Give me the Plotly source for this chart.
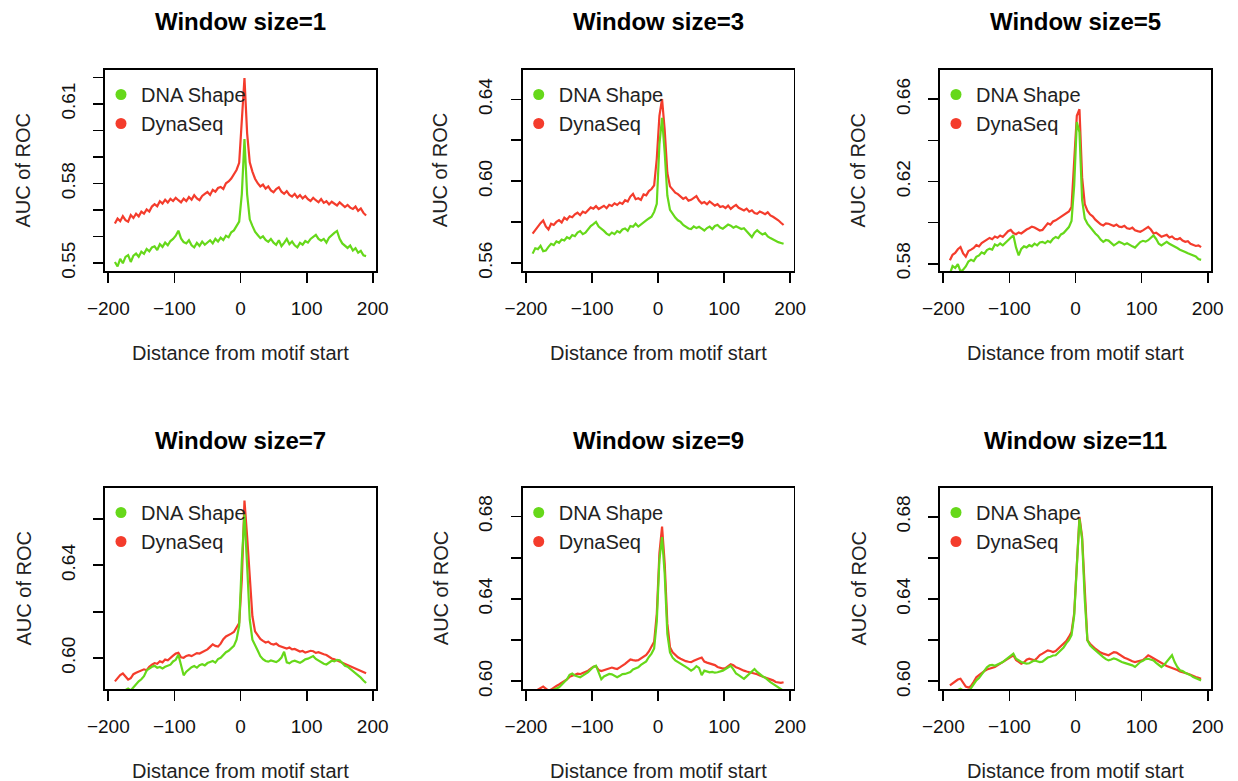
import plotly.graph_objects as go

# ---------------- data ----------------
x_pos = [-190, -186, -182, -178, -174, -170, -166, -162,
         -158, -154, -150, -146, -142, -138, -134, -130,
         -126, -122, -118, -114, -110, -106, -102, -98,
         -94, -90, -86, -82, -78, -74, -70, -66,
         -62, -58, -54, -50, -46, -42, -38, -34,
         -30, -26, -22, -18, -14, -10, -6, -2,
         2, 6, 10, 14, 18, 22, 26, 30,
         34, 38, 42, 46, 50, 54, 58, 62,
         66, 70, 74, 78, 82, 86, 90, 94,
         98, 102, 106, 110, 114, 118, 122, 126,
         130, 134, 138, 142, 146, 150, 154, 158,
         162, 166, 170, 174, 178, 182, 186, 190]

# Window size = 1
shape_w1 = [.5504, .5487, .5516, .5499, .5523, .5530, .5504, .5528,
            .5536, .5524, .5543, .5535, .5553, .5544, .5559, .5563,
            .5549, .5571, .5561, .5577, .5567, .5583, .5591, .5603,
            .5622, .5593, .5579, .5574, .5586, .5567, .5559, .5576,
            .5565, .5581, .5569, .5579, .5586, .5574, .5591, .5581,
            .5596, .5587, .5603, .5597, .5616, .5623, .5641, .5656,
            .5760, .5968, .5760, .5665, .5640, .5618, .5606, .5594,
            .5601, .5587, .5580, .5591, .5577, .5569, .5586, .5564,
            .5576, .5591, .5571, .5581, .5567, .5559, .5576, .5569,
            .5583, .5577, .5591, .5599, .5606, .5591, .5584, .5591,
            .5577, .5596, .5606, .5614, .5621, .5591, .5574, .5567,
            .5557, .5566, .5547, .5556, .5539, .5546, .5529, .5526]
dyna_w1 = [.5649, .5668, .5658, .5677, .5662, .5656, .5681, .5670,
           .5686, .5676, .5694, .5686, .5702, .5694, .5713, .5722,
           .5714, .5733, .5724, .5739, .5728, .5742, .5734, .5746,
           .5737, .5729, .5743, .5734, .5749, .5739, .5756, .5744,
           .5737, .5753, .5761, .5768, .5757, .5776, .5769, .5783,
           .5787, .5779, .5801, .5808, .5819, .5834, .5851, .5878,
           .6030, .6198, .5990, .5880, .5845, .5818, .5801, .5789,
           .5796, .5781, .5789, .5774, .5767, .5779, .5786, .5769,
           .5761, .5771, .5757, .5751, .5761, .5747, .5756, .5744,
           .5753, .5741, .5734, .5746, .5737, .5729, .5741, .5727,
           .5733, .5721, .5731, .5724, .5717, .5729, .5719, .5711,
           .5719, .5709, .5704, .5713, .5697, .5706, .5689, .5679]

# Window size = 3
shape_w3 = [.5646, .5672, .5668, .5684, .5658, .5661, .5679, .5694,
            .5688, .5706, .5699, .5715, .5710, .5726, .5719, .5737,
            .5731, .5749, .5756, .5741, .5748, .5763, .5781, .5790,
            .5801, .5778, .5769, .5757, .5744, .5736, .5749, .5741,
            .5756, .5749, .5764, .5769, .5758, .5781, .5777, .5792,
            .5778, .5789, .5801, .5808, .5818, .5826, .5850, .5890,
            .6180, .6310, .6140, .5930, .5860, .5838, .5822, .5809,
            .5801, .5786, .5777, .5769, .5766, .5779, .5771, .5777,
            .5768, .5759, .5771, .5778, .5766, .5781, .5786, .5774,
            .5768, .5779, .5788, .5783, .5773, .5780, .5771, .5766,
            .5770, .5754, .5738, .5727, .5748, .5760, .5749, .5740,
            .5746, .5730, .5722, .5714, .5706, .5702, .5698, .5694]
dyna_w3 = [.5744, .5762, .5781, .5795, .5808, .5779, .5764, .5792,
           .5786, .5801, .5810, .5798, .5822, .5812, .5829, .5824,
           .5838, .5846, .5834, .5851, .5845, .5860, .5872, .5866,
           .5878, .5864, .5871, .5880, .5868, .5885, .5879, .5892,
           .5884, .5896, .5889, .5907, .5901, .5925, .5938, .5912,
           .5917, .5909, .5936, .5931, .5952, .5962, .5980, .6110,
           .6320, .6402, .6250, .6040, .5975, .5958, .5944, .5937,
           .5925, .5914, .5921, .5905, .5909, .5917, .5927, .5906,
           .5892, .5898, .5887, .5901, .5893, .5881, .5888, .5874,
           .5878, .5869, .5881, .5865, .5876, .5884, .5870, .5862,
           .5857, .5866, .5851, .5858, .5845, .5841, .5852, .5846,
           .5839, .5848, .5833, .5826, .5818, .5809, .5797, .5786]

# Window size = 5
shape_w5 = [.5751, .5788, .5779, .5798, .5762, .5770, .5786, .5810,
            .5819, .5812, .5833, .5840, .5855, .5848, .5866, .5873,
            .5868, .5893, .5887, .5898, .5889, .5901, .5915, .5926,
            .5938, .5879, .5840, .5872, .5884, .5879, .5890, .5884,
            .5897, .5889, .5903, .5906, .5899, .5910, .5904, .5921,
            .5930, .5924, .5942, .5949, .5963, .5978, .6008, .6180,
            .6490, .6440, .6110, .6020, .5995, .5978, .5962, .5947,
            .5935, .5917, .5906, .5915, .5912, .5900, .5889, .5897,
            .5906, .5901, .5893, .5899, .5890, .5884, .5878, .5893,
            .5905, .5911, .5907, .5914, .5925, .5937, .5920, .5897,
            .5889, .5899, .5906, .5897, .5890, .5887, .5876, .5868,
            .5864, .5857, .5850, .5846, .5841, .5835, .5822, .5818]
dyna_w5 = [.5816, .5843, .5852, .5870, .5881, .5850, .5834, .5861,
           .5868, .5876, .5890, .5884, .5900, .5908, .5916, .5925,
           .5919, .5932, .5926, .5937, .5930, .5946, .5958, .5964,
           .5949, .5943, .5952, .5947, .5958, .5966, .5972, .5980,
           .5976, .5968, .5961, .5964, .5978, .5996, .5990, .6005,
           .6011, .6020, .6029, .6036, .6047, .6054, .6076, .6290,
           .6520, .6552, .6220, .6090, .6058, .6040, .6030, .6014,
           .6002, .5991, .5986, .5996, .5994, .5989, .5983, .5990,
           .5980, .5978, .5984, .5972, .5969, .5975, .5962, .5958,
           .5955, .5962, .5972, .5979, .5966, .5947, .5951, .5940,
           .5931, .5936, .5940, .5927, .5932, .5921, .5918, .5924,
           .5912, .5906, .5909, .5897, .5892, .5886, .5889, .5880]

# Window size = 7
shape_w7 = [.5845, .5852, .5858, .5855, .5862, .5868, .5860, .5874,
            .5888, .5899, .5908, .5921, .5946, .5955, .5962, .5966,
            .5958, .5961, .5955, .5962, .5966, .5971, .5985, .5992,
            .6014, .5964, .5925, .5941, .5951, .5960, .5965, .5958,
            .5969, .5973, .5968, .5978, .5983, .5987, .5980, .5995,
            .6001, .6012, .6025, .6031, .6043, .6052, .6079, .6140,
            .6420, .6620, .6400, .6165, .6079, .6052, .6032, .6008,
            .5995, .5987, .5984, .5989, .5986, .5982, .5990, .6002,
            .6027, .5981, .5977, .5985, .5988, .5983, .5979, .5986,
            .5994, .5997, .6003, .6008, .5996, .5988, .5982, .5975,
            .5972, .5979, .5988, .5985, .5992, .5990, .5978, .5966,
            .5962, .5953, .5944, .5936, .5926, .5915, .5903, .5892]
dyna_w7 = [.5899, .5912, .5926, .5933, .5920, .5907, .5913, .5930,
           .5936, .5941, .5944, .5951, .5947, .5962, .5971, .5978,
           .5975, .5986, .5981, .5993, .5990, .6002, .6010, .6019,
           .6022, .6003, .6001, .6009, .6012, .6008, .6016, .6021,
           .6019, .6026, .6033, .6037, .6048, .6059, .6052, .6049,
           .6062, .6081, .6093, .6098, .6105, .6112, .6135, .6151,
           .6338, .6680, .6525, .6338, .6180, .6115, .6098, .6082,
           .6074, .6067, .6070, .6061, .6058, .6062, .6053, .6050,
           .6046, .6041, .6045, .6037, .6039, .6032, .6028, .6030,
           .6023, .6027, .6031, .6029, .6022, .6025, .6019, .6016,
           .6013, .6005, .5998, .5994, .5989, .5985, .5980, .5972,
           .5970, .5962, .5957, .5955, .5950, .5944, .5940, .5934]

# Window size = 9
shape_w9 = [.5935, .5940, .5942, .5948, .5950, .5946, .5952, .5955,
            .5960, .5965, .5971, .5984, .5998, .6010, .6032, .6038,
            .6028, .6025, .6020, .6028, .6036, .6045, .6058, .6070,
            .6076, .6046, .6010, .6024, .6030, .6036, .6034, .6026,
            .6020, .6027, .6035, .6036, .6040, .6045, .6058, .6064,
            .6068, .6080, .6090, .6097, .6118, .6135, .6160, .6290,
            .6590, .6700, .6520, .6230, .6140, .6115, .6102, .6093,
            .6086, .6078, .6070, .6062, .6052, .6060, .6074, .6065,
            .6030, .6052, .6048, .6044, .6046, .6042, .6044, .6048,
            .6052, .6060, .6070, .6076, .6058, .6038, .6030, .6022,
            .6012, .6024, .6036, .6052, .6060, .6046, .6035, .6025,
            .6018, .6005, .5996, .5988, .5980, .5972, .5963, .5954]
dyna_w9 = [.5945, .5952, .5958, .5968, .5975, .5965, .5955, .5960,
           .5970, .5978, .5985, .5992, .6000, .6010, .6022, .6029,
           .6032, .6037, .6035, .6041, .6045, .6052, .6062, .6071,
           .6074, .6055, .6050, .6054, .6058, .6062, .6067, .6063,
           .6060, .6068, .6075, .6085, .6096, .6106, .6103, .6101,
           .6103, .6112, .6122, .6128, .6145, .6166, .6192, .6328,
           .6621, .6751, .6572, .6280, .6166, .6141, .6128, .6117,
           .6110, .6102, .6098, .6095, .6093, .6100, .6107, .6111,
           .6115, .6096, .6091, .6087, .6084, .6079, .6070, .6066,
           .6062, .6064, .6072, .6083, .6078, .6068, .6064, .6056,
           .6052, .6048, .6045, .6041, .6038, .6035, .6028, .6024,
           .6020, .6015, .6011, .6005, .5997, .5995, .5993, .5996]

# Window size = 11
shape_w11 = [.5940, .5945, .5950, .5958, .5964, .5956, .5942, .5952,
             .5968, .5990, .6005, .6016, .6035, .6050, .6068, .6078,
             .6080, .6076, .6082, .6090, .6094, .6104, .6115, .6125,
             .6135, .6110, .6100, .6094, .6090, .6086, .6088, .6096,
             .6102, .6098, .6094, .6096, .6108, .6116, .6120, .6126,
             .6127, .6140, .6155, .6165, .6185, .6200, .6225, .6320,
             .6560, .6790, .6690, .6400, .6200, .6175, .6162, .6151,
             .6140, .6125, .6118, .6108, .6102, .6106, .6112, .6108,
             .6100, .6094, .6090, .6086, .6084, .6078, .6070, .6082,
             .6094, .6100, .6108, .6110, .6105, .6102, .6090, .6078,
             .6070, .6080, .6094, .6110, .6127, .6094, .6070, .6054,
             .6050, .6042, .6037, .6030, .6021, .6015, .6010, .6005]
dyna_w11 = [.5981, .5990, .6001, .6009, .6013, .5993, .5975, .5970,
            .5978, .5998, .6020, .6030, .6042, .6050, .6058, .6062,
            .6066, .6070, .6078, .6086, .6094, .6102, .6112, .6120,
            .6127, .6104, .6093, .6086, .6092, .6105, .6110, .6106,
            .6102, .6114, .6128, .6135, .6142, .6151, .6148, .6143,
            .6148, .6160, .6172, .6180, .6196, .6216, .6240, .6330,
            .6573, .6800, .6703, .6411, .6200, .6183, .6170, .6159,
            .6150, .6140, .6135, .6130, .6127, .6135, .6142, .6140,
            .6132, .6120, .6115, .6110, .6102, .6098, .6094, .6097,
            .6100, .6104, .6115, .6127, .6120, .6112, .6105, .6096,
            .6088, .6082, .6075, .6070, .6066, .6062, .6055, .6048,
            .6045, .6041, .6037, .6032, .6025, .6021, .6017, .6013]

window_sizes = [1, 3, 5, 7, 9, 11]
shape_series = [shape_w1, shape_w3, shape_w5, shape_w7, shape_w9, shape_w11]
dyna_series = [dyna_w1, dyna_w3, dyna_w5, dyna_w7, dyna_w9, dyna_w11]

x_tickvals = [-200, -100, 0, 100, 200]
x_ticktext = ["\u2212200", "\u2212100", "0", "100", "200"]

y_tickvals = [
    [0.55, 0.56, 0.57, 0.58, 0.59, 0.60, 0.61, 0.62],
    [0.56, 0.58, 0.60, 0.62, 0.64],
    [0.58, 0.60, 0.62, 0.64, 0.66],
    [0.60, 0.62, 0.64, 0.66],
    [0.60, 0.62, 0.64, 0.66, 0.68],
    [0.60, 0.62, 0.64, 0.66, 0.68],
]
y_ticktext = [
    ["0.55", "", "", "0.58", "", "", "0.61", ""],
    ["0.56", "", "0.60", "", "0.64"],
    ["0.58", "", "0.62", "", "0.66"],
    ["0.60", "", "0.64", ""],
    ["0.60", "", "0.64", "", "0.68"],
    ["0.60", "", "0.64", "", "0.68"],
]
y_ranges = [
    [0.5470, 0.6228],
    [0.5561, 0.6544],
    [0.5764, 0.6743],
    [0.5866, 0.6734],
    [0.5963, 0.6938],
    [0.5963, 0.6940],
]
x_range = [-205, 205]

series_names = ["DNA Shape", "DynaSeq"]
GREEN = "#66D81A"
RED = "#F43C2C"

# ---------------- layout geometry ----------------
W, H = 1238, 781
col_px = [(105, 376), (522.7, 793.5), (940, 1211)]
row_px = [(70, 271), (488, 689)]

FONT = "Liberation Sans, Arial, Helvetica, sans-serif"

fig = go.Figure()
layout = dict(
    width=W, height=H,
    margin=dict(l=0, r=0, t=0, b=0, autoexpand=False),
    paper_bgcolor="white", plot_bgcolor="white",
    font=dict(family=FONT, color="black"),
    showlegend=True,
)
annotations = []

for i in range(6):
    r, c = divmod(i, 3)
    n = "" if i == 0 else str(i + 1)
    xa, ya = "x" + n, "y" + n
    x0p, x1p = col_px[c]
    t_px, b_px = row_px[r]
    xdom = [x0p / W, x1p / W]
    ydom = [1 - b_px / H, 1 - t_px / H]
    leg = "legend" + n

    fig.add_trace(go.Scatter(x=x_pos, y=dyna_series[i], mode="lines",
                             line=dict(color=RED, width=2.2),
                             xaxis=xa, yaxis=ya, showlegend=False,
                             hoverinfo="skip"))
    fig.add_trace(go.Scatter(x=x_pos, y=shape_series[i], mode="lines",
                             line=dict(color=GREEN, width=2.2),
                             xaxis=xa, yaxis=ya, showlegend=False,
                             hoverinfo="skip"))
    # legend entries (dots)
    for name, col in zip(series_names, [GREEN, RED]):
        fig.add_trace(go.Scatter(x=[None], y=[None], mode="markers",
                                 marker=dict(color=col, size=11),
                                 name=name, xaxis=xa, yaxis=ya,
                                 legend=leg, showlegend=True))

    layout["xaxis" + n] = dict(
        domain=xdom, range=x_range, anchor=ya, automargin=False,
        showline=True, mirror=True, linecolor="black", linewidth=1.8,
        ticks="outside", ticklen=10, tickwidth=1.8, tickcolor="black",
        tickvals=x_tickvals, ticktext=x_ticktext,
        tickfont=dict(size=19, family=FONT, color="#111111"),
        ticklabelstandoff=9,
        showgrid=False, zeroline=False, fixedrange=True,
    )
    layout["yaxis" + n] = dict(
        domain=ydom, range=y_ranges[i], anchor=xa, automargin=False,
        showline=True, mirror=True, linecolor="black", linewidth=1.8,
        ticks="outside", ticklen=10, tickwidth=1.8, tickcolor="black",
        tickvals=y_tickvals[i], ticktext=y_ticktext[i], tickangle=-90,
        tickfont=dict(size=19, family=FONT, color="#111111"),
        ticklabelstandoff=11,
        showgrid=False, zeroline=False, fixedrange=True,
    )
    layout[leg] = dict(
        x=(x0p - 4) / W, y=1 - (t_px + 5) / H, xanchor="left", yanchor="top",
        bgcolor="rgba(0,0,0,0)", borderwidth=0,
        font=dict(size=20, family=FONT, color="#222222"),
        itemsizing="trace", tracegroupgap=0,
    )

    cx = (x0p + x1p) / 2 / W
    annotations.append(dict(
        text="<b>Window size=%d</b>" % window_sizes[i], x=cx,
        y=1 - (t_px - 48) / H, xref="paper", yref="paper",
        xanchor="center", yanchor="middle", showarrow=False,
        font=dict(size=24, family=FONT, color="black")))
    annotations.append(dict(
        text="Distance from motif start", x=cx,
        y=1 - (b_px + 82) / H, xref="paper", yref="paper",
        xanchor="center", yanchor="middle", showarrow=False,
        font=dict(size=20, family=FONT, color="#222222")))
    annotations.append(dict(
        text="AUC of ROC", x=(x0p - 82) / W,
        y=1 - (t_px + b_px) / 2 / H, xref="paper", yref="paper",
        xanchor="center", yanchor="middle", showarrow=False, textangle=-90,
        font=dict(size=20, family=FONT, color="#222222")))

layout["annotations"] = annotations
fig.update_layout(**layout)
fig.write_html(
    "out.html",
    config={"displayModeBar": False, "staticPlot": True},
    post_script="document.body.style.margin='0px';"
                "document.body.style.overflow='hidden';",
)
